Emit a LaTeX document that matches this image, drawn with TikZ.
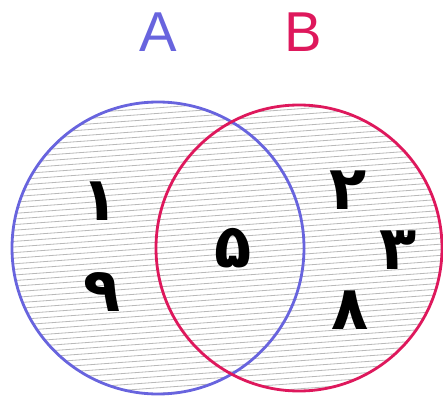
\documentclass[tikz,border=0pt]{standalone}
\usepackage{fontspec}
\setmainfont{Liberation Sans}
\newfontfamily\arabicfont[Script=Arabic]{DejaVu Sans}
\TeXXeTstate=1
\usepackage{xcolor}
\usepackage{tikz}
\definecolor{setblue}{RGB}{104,100,222}
\definecolor{setred}{RGB}{222,24,92}
\definecolor{hatchgray}{RGB}{185,185,185}

\begin{document}
\begin{tikzpicture}[
    x=0.03cm, y=-0.03cm,
    setlabel/.style={inner sep=0pt, font=\fontsize{48}{48}\selectfont},
    elem/.style={inner sep=0pt, font=\arabicfont\bfseries\fontsize{52}{52}\selectfont},
    hatch/.style={hatchgray, line width=0.7pt},
    ring/.style={line width=2.4pt},
  ]

  \useasboundingbox (0,0) rectangle (443,396);

  % hatching inside both sets
  \begin{scope}
    \clip (158,248) circle (146) (299,248) circle (143);
    \foreach \i in {-40,...,60}
      \draw[hatch] (0,\i*5.6+80) -- (443,\i*5.6+48);
  \end{scope}

  % the two sets
  \draw[ring, setblue] (158,248) circle (146);
  \draw[ring, setred] (299,248) circle (143);

  \node[setlabel, text=setblue] (labA) at (158,32) {A};
  \node[setlabel, text=setred] (labB) at (303,32) {B};

  % A only
  \node[elem] (one) at (100,201) {\beginR ۱\endR};
  \node[elem] (nine) at (102,292) {\beginR ۹\endR};
  % A and B
  \node[elem] (five) at (233,248) {\beginR ۵\endR};
  % B only
  \node[elem] (two) at (348,190) {\beginR ۲\endR};
  \node[elem] (three) at (398,250) {\beginR ۳\endR};
  \node[elem] (eight) at (350,310) {\beginR ۸\endR};

\end{tikzpicture}
\end{document}
